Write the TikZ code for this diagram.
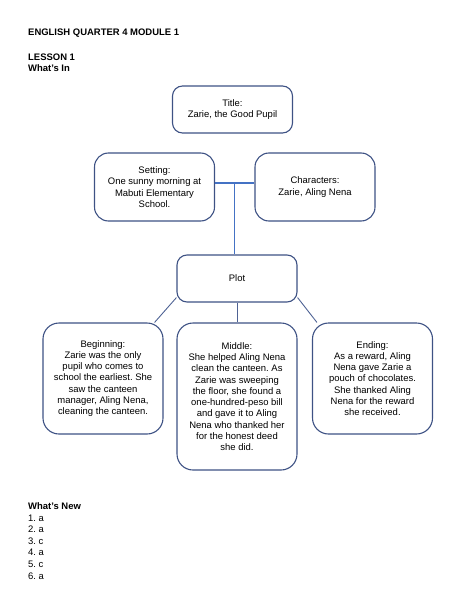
\documentclass[tikz,border=0pt]{standalone}
\usepackage{fontspec}
\setmainfont{Liberation Sans}
\usetikzlibrary{positioning,calc}
\definecolor{boxline}{RGB}{62,82,132}
\definecolor{linkblue}{RGB}{68,114,196}
\definecolor{linkgray}{RGB}{78,98,148}
\frenchspacing
\begin{document}
\begin{tikzpicture}[x=1bp, y=-1bp,
    every node/.style={font=\fontsize{9.5}{11.3}\selectfont},
    storybox/.style={draw=boxline, line width=1.1pt, rounded corners=#1, align=center, inner sep=0pt, minimum width=120bp},
    storybox/.default=16bp,
    link/.style={draw=linkgray, line width=0.9pt}]
\useasboundingbox (0,0) rectangle (474,613);
\node[anchor=west, inner sep=0pt, font=\fontsize{9.5}{11.5}\selectfont\bfseries] (heading) at (28,33) {ENGLISH QUARTER 4 MODULE 1};
\node[anchor=west, inner sep=0pt, align=left, font=\fontsize{9.5}{11.5}\selectfont\bfseries] (lesson) at (28,62.5) {LESSON 1\\What's In};
\node[storybox=10bp, minimum height=47bp] (title) at (232.5,109.5) {Title:\\Zarie, the Good Pupil};
\node[storybox=14bp, minimum height=68bp] (setting) at (154.5,187) {Setting:\\One sunny morning at\\Mabuti Elementary\\School.};
\node[storybox=14bp, minimum height=68bp] (characters) at (315,187) {Characters:\\Zarie, Aling Nena};
\node[storybox=10bp, minimum height=47bp] (plot) at (237,278.5) {Plot};
\node[storybox, minimum height=111bp] (beginning) at (103,378.5) {Beginning:\\Zarie was the only\\pupil who comes to\\school the earliest. She\\saw the canteen\\manager, Aling Nena,\\cleaning the canteen.};
\node[storybox, minimum height=147bp] (middle) at (237,396.5) {Middle:\\She helped Aling Nena\\clean the canteen. As\\Zarie was sweeping\\the floor, she found a\\one-hundred-peso bill\\and gave it to Aling\\Nena who thanked her\\for the honest deed\\she did.};
\node[storybox, minimum height=111bp] (ending) at (372.5,378.5) {Ending:\\As a reward, Aling\\Nena gave Zarie a\\pouch of chocolates.\\She thanked Aling\\Nena for the reward\\she received.};
\coordinate (hub) at ([yshift=4bp]$(setting.east)!0.5!(characters.west)$);
\draw[linkblue, line width=1.4pt] ([yshift=4bp]setting.east) -- ([yshift=4bp]characters.west);
\draw[linkblue, line width=1.4pt] (hub) -- (hub |- plot.north);
\draw[link] ([yshift=5bp]plot.south west) -- ([xshift=-9bp]beginning.north east);
\draw[link] (plot.south) -- (middle.north);
\draw[link] ([yshift=5bp]plot.south east) -- ([xshift=5bp]ending.north west);
\node[anchor=west, inner sep=0pt, align=left, font=\fontsize{9.5}{11.6}\selectfont] (answers) at (28,541) {\textbf{What's New}\\1. a\\2. a\\3. c\\4. a\\5. c\\6. a};
\end{tikzpicture}
\end{document}
